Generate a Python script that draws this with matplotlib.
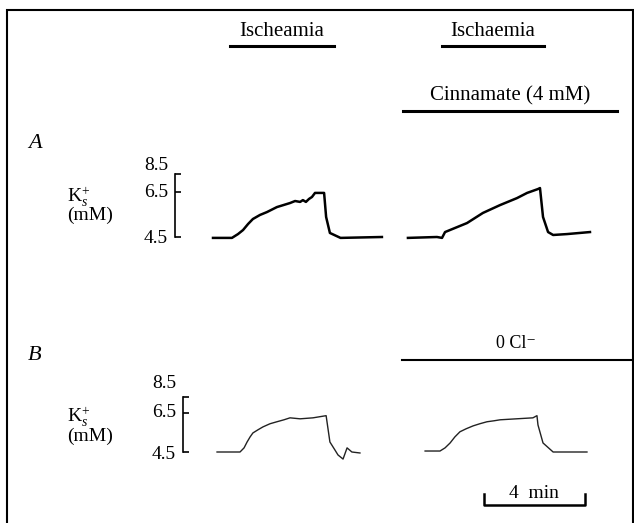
import numpy as np
import matplotlib.pyplot as plt
from matplotlib.transforms import blended_transform_factory
from matplotlib.patches import Rectangle

plt.rcParams['font.family'] = ['Liberation Serif', 'DejaVu Serif']
plt.rcParams['mathtext.fontset'] = 'custom'
plt.rcParams['mathtext.rm'] = 'Liberation Serif'
plt.rcParams['mathtext.it'] = 'Liberation Serif:italic'

# time in min, K+ in mM
a1_t = [0, 0.75, 0.99, 1.19, 1.39, 1.58, 1.86, 2.14, 2.53, 3.05, 3.25, 3.45, 3.56, 3.68, 3.80, 3.92, 4.04, 4.40, 4.48, 4.63, 5.05, 6.69]
a1_k = [4.46, 4.46, 4.63, 4.81, 5.08, 5.30, 5.48, 5.61, 5.83, 6.01, 6.10, 6.06, 6.14, 6.06, 6.19, 6.28, 6.46, 6.46, 5.39, 4.68, 4.46, 4.50]
a2_t = [7.72, 8.87, 9.07, 9.19, 10.06, 10.69, 11.37, 12.04, 12.44, 12.87, 12.95, 13.07, 13.27, 13.47, 14.02, 14.93]
a2_k = [4.46, 4.50, 4.46, 4.72, 5.12, 5.57, 5.92, 6.23, 6.46, 6.83, 6.94, 5.39, 4.72, 4.59, 4.63, 4.72]
b1_t = [0.16, 1.07, 1.23, 1.35, 1.47, 1.58, 1.78, 1.98, 2.26, 2.53, 2.81, 3.05, 3.45, 3.96, 4.48, 4.63, 4.83, 4.95, 5.15, 5.31, 5.50, 5.82]
b1_k = [4.50, 4.50, 4.71, 5.01, 5.27, 5.47, 5.63, 5.78, 5.94, 6.04, 6.14, 6.24, 6.19, 6.24, 6.35, 5.01, 4.60, 4.35, 4.14, 4.71, 4.50, 4.45]
b2_t = [8.40, 8.99, 9.19, 9.39, 9.58, 9.78, 10.02, 10.30, 10.57, 10.85, 11.13, 11.37, 12.67, 12.83, 12.87, 13.07, 13.47, 14.81]
b2_k = [4.55, 4.55, 4.71, 4.96, 5.27, 5.53, 5.68, 5.83, 5.94, 6.04, 6.09, 6.14, 6.24, 6.35, 5.88, 4.96, 4.50, 4.50]

isch_on = [0.67, 9.07]
isch_off = [4.79, 13.11]
isch_labels = ['Ischeamia', 'Ischaemia']
cinnamate = (7.52, 16.0)
zero_cl = (7.49, 16.7)
bar_start, bar_len = 10.73, 4
k_ticks = [4.5, 6.5, 8.5]

W, H = 634, 523
fig = plt.figure(figsize=(W / 100, H / 100), dpi=100)


def fwd(v):
    v = np.asarray(v, dtype=float)
    return np.where(v < 6.5, (v - 4.5) / 2 * 0.714, 0.714 + (v - 6.5) / 2 * 0.286)


def inv(u):
    u = np.asarray(u, dtype=float)
    return np.where(u < 0.714, 4.5 + u / 0.714 * 2, 6.5 + (u - 0.714) / 0.286 * 2)


def fy(px):
    return 1 - px / H


xlim = (-213 / 25.25, (W - 213) / 25.25)


def panel(bottom_px, top_px, bracket_x, label_dy, traces, lw, color):
    ax = fig.add_axes([0, fy(bottom_px), 1, (bottom_px - top_px) / H])
    ax.set_xlim(xlim)
    ax.set_yscale('function', functions=(fwd, inv))
    ax.set_ylim(4.5, 8.5)
    ax.patch.set_visible(False)
    for s in ['top', 'right', 'bottom']:
        ax.spines[s].set_visible(False)
    ax.spines['left'].set_position(('data', bracket_x))
    ax.spines['left'].set_bounds(4.5, 8.5)
    ax.spines['left'].set_linewidth(1.2)
    ax.set_xticks([])
    ax.set_yticks(k_ticks)
    ax.yaxis.set_minor_locator(plt.NullLocator())
    ax.tick_params(axis='y', direction='in', length=4, width=1.2, labelleft=False)
    for v, dy in zip(k_ticks, label_dy):
        ax.annotate(str(v), (bracket_x, v), xytext=(-5, dy), textcoords='offset points',
                    ha='right', va='center', fontsize=14)
    for t, k in traces:
        ax.plot(t, k, color=color, lw=lw, clip_on=False, solid_joinstyle='round')
    return ax


axA = panel(237, 174, -1.50, [-1, 0, 6], [(a1_t, a1_k), (a2_t, a2_k)], 1.8, 'black')
axB = panel(452, 397, -1.19, [-2, 0, 10], [(b1_t, b1_k), (b2_t, b2_k)], 1.0, '#222222')

trA = blended_transform_factory(axA.transData, fig.transFigure)
trB = blended_transform_factory(axB.transData, fig.transFigure)

# protocol bars
for on, off, lab in zip(isch_on, isch_off, isch_labels):
    axA.plot([on, off], [fy(46), fy(46)], color='black', lw=2.2, transform=trA, clip_on=False)
    axA.text((on + off) / 2, fy(31), lab, transform=trA, ha='center', va='center', fontsize=15)
axA.plot(cinnamate, [fy(111), fy(111)], color='black', lw=2.2, transform=trA, clip_on=False)
axA.text(sum(cinnamate) / 2, fy(96), 'Cinnamate (4 mM)', transform=trA, ha='center', va='center', fontsize=15)
axB.plot(zero_cl, [fy(360), fy(360)], color='black', lw=1.5, transform=trB, clip_on=False)
axB.text(sum(zero_cl) / 2 - 0.1, fy(343), '0 Cl⁻', transform=trB, ha='center', va='center', fontsize=13)

# scale bar
bx = [bar_start, bar_start, bar_start + bar_len, bar_start + bar_len]
axB.plot(bx, [fy(494), fy(505), fy(505), fy(494)], color='black', lw=1.8, transform=trB, clip_on=False)
axB.text(bar_start + bar_len / 2, fy(494), '4  min', transform=trB, ha='center', va='center', fontsize=14)

# panel letters and y labels
for letter, yl, yk, ym in [('A', 143, 197, 215), ('B', 355, 417, 436)]:
    fig.text(28 / W, fy(yl), letter, style='italic', fontsize=16, va='center')
    fig.text(67 / W, fy(yk), r'K$^{+}_{s}$', fontsize=14, va='center')
    fig.text(67 / W, fy(ym), '(mM)', fontsize=14, va='center')

# frame
fig.add_artist(Rectangle((6.5 / W, -0.05), (633 - 6.5) / W, 1.05 - 10 / H,
                         transform=fig.transFigure, fill=False, lw=1.5, edgecolor='black'))

fig.savefig('out.png', dpi=100)
